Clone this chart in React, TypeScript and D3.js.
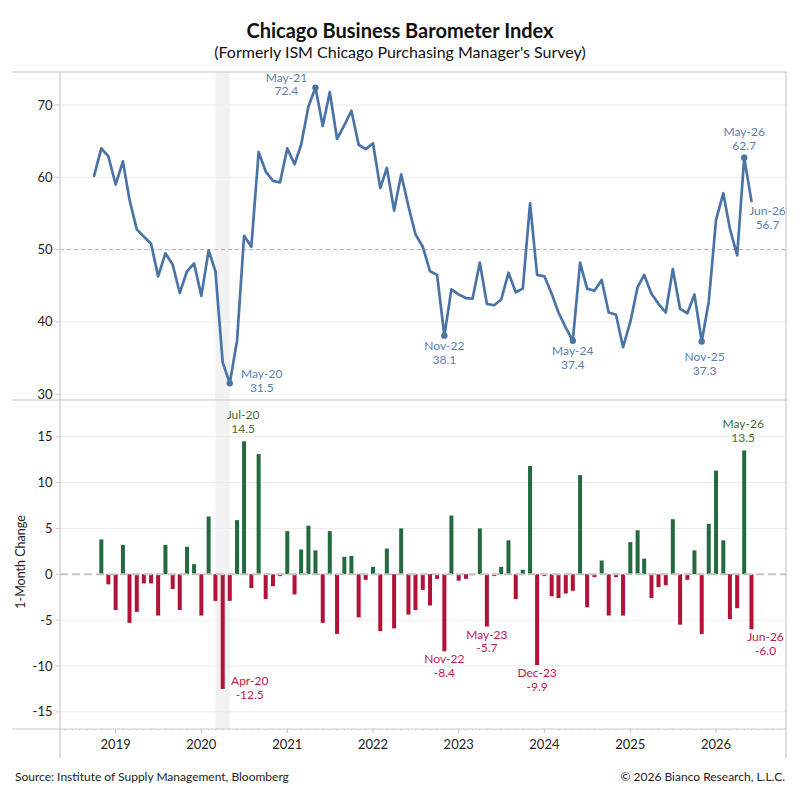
import React from "react";
import * as d3 from "d3";

// ---------- DATA ----------
const startMonth = new Date(2018, 9, 1); // Oct 2018
const endMonth = new Date(2026, 6, 1); // exclusive (Jul 2026)
const months: Date[] = d3.timeMonth.range(startMonth, endMonth);

// Chicago Business Barometer Index, Oct-18 .. Jun-26
const indexValues: number[] = [
  60.2, 64.0, 62.9, // 2018 Oct-Dec
  59.0, 62.2, 56.9, 52.8, 51.8, 50.8, 46.3, 49.5, 47.9, 44.0, 47.0, 48.1, // 2019
  43.6, 49.9, 47.0, 34.4, 31.5, 37.4, 51.9, 50.4, 63.5, 60.8, 59.5, 59.3, // 2020
  64.0, 61.8, 64.5, 69.8, 72.4, 67.1, 71.8, 65.3, 67.2, 69.2, 64.5, 63.9, // 2021
  64.7, 58.5, 61.3, 55.4, 60.4, 56.0, 52.1, 50.4, 47.0, 46.5, 38.1, 44.5, // 2022
  43.8, 43.3, 43.2, 48.2, 42.5, 42.3, 43.1, 46.8, 44.1, 44.6, 56.4, 46.5, // 2023
  46.3, 43.9, 41.3, 39.2, 37.4, 48.2, 44.6, 44.3, 45.8, 41.3, 41.0, 36.5, // 2024
  40.0, 44.8, 46.5, 43.9, 42.5, 41.3, 47.3, 41.8, 41.2, 43.8, 37.3, 42.8, // 2025
  54.1, 57.8, 52.9, 49.2, 62.7, 56.7, // 2026
];

// 1-month change, Nov-18 .. Jun-26
const changeValues: number[] = [
  3.8, -1.1, // 2018 Nov-Dec
  -3.9, 3.2, -5.3, -4.1, -1.0, -1.0, -4.5, 3.2, -1.6, -3.9, 3.0, 1.1, // 2019
  -4.5, 6.3, -2.9, -12.5, -2.9, 5.9, 14.5, -1.5, 13.1, -2.7, -1.3, -0.2, // 2020
  4.7, -2.2, 2.7, 5.3, 2.6, -5.3, 4.7, -6.5, 1.9, 2.0, -4.7, -0.6, // 2021
  0.8, -6.2, 2.8, -5.9, 5.0, -4.4, -3.9, -1.7, -3.4, -0.5, -8.4, 6.4, // 2022
  -0.7, -0.5, -0.1, 5.0, -5.7, -0.2, 0.8, 3.7, -2.7, 0.5, 11.8, -9.9, // 2023
  -0.2, -2.4, -2.6, -2.1, -1.8, 10.8, -3.6, -0.3, 1.5, -4.5, -0.3, -4.5, // 2024
  3.5, 4.8, 1.7, -2.6, -1.4, -1.2, 6.0, -5.5, -0.6, 2.6, -6.5, 5.5, // 2025
  11.3, 3.7, -4.9, -3.7, 13.5, -6.0, // 2026
];
const changeMonths: Date[] = months.slice(1);

const upperTicks = [30, 40, 50, 60, 70];
const lowerTicks = [-15, -10, -5, 0, 5, 10, 15];
const yearTicks = [2019, 2020, 2021, 2022, 2023, 2024, 2025, 2026];

const recessionStart = new Date(2020, 2, 1);
const recessionEnd = new Date(2020, 4, 1);

// annotated months with placement keys
const upperAnnotations: [string, string][] = [
  ["2020-05", "right"],
  ["2021-05", "left"],
  ["2022-11", "below"],
  ["2024-05", "below"],
  ["2025-11", "belowFar"],
  ["2026-05", "above"],
  ["2026-06", "belowRight"],
];
const lowerAnnotations: [string, string][] = [
  ["2020-04", "right"],
  ["2020-07", "above"],
  ["2022-11", "below"],
  ["2023-05", "below"],
  ["2023-12", "below"],
  ["2026-05", "above"],
  ["2026-06", "belowRight"],
];
const upperMarkers = ["2020-05", "2021-05", "2022-11", "2024-05", "2025-11", "2026-05"];

const title = "Chicago Business Barometer Index";
const subtitle = "(Formerly ISM Chicago Purchasing Manager's Survey)";
const lowerAxisTitle = "1-Month Change";
const sourceText = "Source: Institute of Supply Management, Bloomberg";
const copyrightText = "\u00A9 2026 Bianco Research, L.L.C.";

// ---------- LAYOUT ----------
const FONT = "Lato, 'Open Sans', sans-serif";
const L = 60, R = 786;
const TOP = 72, MID = 400, BOT = 729, FRAME_BOTTOM = 758, FRAME_LEFT = 12;

const LINE_COLOR = "#4a74a6";
const BLUE_TEXT = "#5a80b2";
const GREEN = "#236a3e";
const GREEN_TEXT = "#476b30";
const RED = "#b01238";
const RED_TEXT = "#c0174d";
const GRID = "#ececec";
const FRAME = "#c8c8c8";
const TEXT = "#222";

const keyFmt = d3.timeFormat("%Y-%m");
const labFmt = d3.timeFormat("%b-%y");
const valFmt = d3.formatLocale({ decimal: ".", thousands: ",", grouping: [3], currency: ["$", ""], minus: "-" }).format(".1f");

const upperPlace: Record<string, { dx: number; d1: number; d2: number }> = {
  left: { dx: -29, d1: -6, d2: 7.5 },
  right: { dx: 32, d1: -5.5, d2: 8.2 },
  below: { dx: 0, d1: 14, d2: 28 },
  belowFar: { dx: 3, d1: 20, d2: 33.8 },
  above: { dx: 0, d1: -22, d2: -8 },
  belowRight: { dx: 16, d1: 14, d2: 28 },
};
const lowerPlace: Record<string, { dx: number; d1: number; d2: number }> = {
  right: { dx: 27, d1: -3.5, d2: 10.3 },
  above: { dx: -1, d1: -22, d2: -8 },
  below: { dx: 0, d1: 12, d2: 25.8 },
  belowRight: { dx: 14, d1: 11.5, d2: 25.7 },
};

export default function App() {
  const x = d3
    .scaleTime()
    .domain([new Date(2018, 4, 9), new Date(2026, 9, 26)])
    .range([L, R]);
  const yU = d3.scaleLinear().domain([29.2, 74.56]).range([MID, TOP]);
  const yL = d3.scaleLinear().domain([-16.87, 19.0]).range([BOT, MID]);

  const line = d3
    .line<number>()
    .x((_, i) => x(months[i]))
    .y((d) => yU(d));

  const minorTicks = d3.timeMonth.range(new Date(2018, 5, 1), new Date(2026, 10, 1));
  const idx = (k: string) => months.findIndex((m) => keyFmt(m) === k);
  const cidx = (k: string) => changeMonths.findIndex((m) => keyFmt(m) === k);
  const barW = 4;

  return (
    <svg
      width={800}
      height={800}
      style={{ position: "absolute", left: 0, top: 0, background: "#fff" }}
      fontFamily={FONT}
    >
      <rect x={0} y={0} width={800} height={800} fill="#fff" />
      {/* titles */}
      <text x={400} y={37.5} textAnchor="middle" fontSize={20} fontWeight={700} fill="#111">
        {title}
      </text>
      <text x={400} y={57.5} textAnchor="middle" fontSize={16} fill="#111">
        {subtitle}
      </text>

      {/* recession band */}
      <rect
        x={x(recessionStart)}
        y={TOP}
        width={x(recessionEnd) - x(recessionStart)}
        height={BOT - TOP}
        fill="#f2f2f2"
      />

      {/* gridlines */}
      {upperTicks.map((t) => (
        <line key={"gu" + t} x1={L} x2={R} y1={yU(t)} y2={yU(t)} stroke={GRID} strokeWidth={1} />
      ))}
      {lowerTicks
        .filter((t) => t !== 0)
        .map((t) => (
          <line key={"gl" + t} x1={L} x2={R} y1={yL(t)} y2={yL(t)} stroke={GRID} strokeWidth={1} />
        ))}

      {/* y tick labels and ticks */}
      {upperTicks.map((t) => (
        <g key={"tu" + t}>
          <line x1={L - 4} x2={L} y1={yU(t)} y2={yU(t)} stroke={FRAME} />
          <text x={52.5} y={yU(t)} dy="0.35em" textAnchor="end" fontSize={13} fill={TEXT}>
            {t}
          </text>
        </g>
      ))}
      {lowerTicks.map((t) => (
        <g key={"tl" + t}>
          <line x1={L - 4} x2={L} y1={yL(t)} y2={yL(t)} stroke={FRAME} />
          <text x={52.5} y={yL(t)} dy="0.35em" textAnchor="end" fontSize={13} fill={TEXT}>
            {valFmt(t).replace(".0", "")}
          </text>
        </g>
      ))}
      <text
        transform={`translate(25,${562}) rotate(-90)`}
        textAnchor="middle"
        fontSize={12.5}
        fill={TEXT}
      >
        {lowerAxisTitle}
      </text>

      {/* 50 reference line */}
      <line
        x1={L}
        x2={R}
        y1={yU(50)}
        y2={yU(50)}
        stroke="#b4b4b4"
        strokeWidth={1}
        strokeDasharray="4,3"
      />

      {/* bars */}
      {changeValues.map((v, i) => (
        <rect
          key={"b" + i}
          x={x(changeMonths[i]) - barW / 2}
          y={v >= 0 ? yL(v) : yL(0)}
          width={barW}
          height={Math.abs(yL(v) - yL(0))}
          fill={v >= 0 ? GREEN : RED}
        />
      ))}
      <line
        x1={L}
        x2={R}
        y1={yL(0)}
        y2={yL(0)}
        stroke="#c4c4c4"
        strokeWidth={2}
        strokeDasharray="8,4"
      />

      {/* index line */}
      <path
        d={line(indexValues) || ""}
        fill="none"
        stroke={LINE_COLOR}
        strokeWidth={2.7}
        strokeLinejoin="round"
        strokeLinecap="round"
      />
      {upperMarkers.map((k) => {
        const i = idx(k);
        return <circle key={"m" + k} cx={x(months[i])} cy={yU(indexValues[i])} r={3.2} fill={LINE_COLOR} />;
      })}

      {/* upper annotations */}
      {upperAnnotations.map(([k, p]) => {
        const i = idx(k);
        const pl = upperPlace[p];
        const cx = x(months[i]) + pl.dx;
        const cy = yU(indexValues[i]);
        return (
          <g key={"ua" + k} fontSize={12} fill={BLUE_TEXT} textAnchor="middle">
            <text x={cx} y={cy + pl.d1}>{labFmt(months[i])}</text>
            <text x={cx} y={cy + pl.d2}>{valFmt(indexValues[i])}</text>
          </g>
        );
      })}

      {/* lower annotations */}
      {lowerAnnotations.map(([k, p]) => {
        const i = cidx(k);
        const v = changeValues[i];
        const pl = lowerPlace[p];
        const cx = x(changeMonths[i]) + pl.dx;
        const cy = yL(v);
        return (
          <g key={"la" + k} fontSize={12} fill={v >= 0 ? GREEN_TEXT : RED_TEXT} textAnchor="middle">
            <text x={cx} y={cy + pl.d1}>{labFmt(changeMonths[i])}</text>
            <text x={cx} y={cy + pl.d2}>{valFmt(v)}</text>
          </g>
        );
      })}

      {/* frame */}
      <line x1={FRAME_LEFT} x2={R} y1={TOP} y2={TOP} stroke={FRAME} strokeWidth={1.2} />
      <line x1={FRAME_LEFT} x2={R} y1={MID} y2={MID} stroke={FRAME} strokeWidth={1.2} />
      <line x1={FRAME_LEFT} x2={R} y1={BOT} y2={BOT} stroke={FRAME} strokeWidth={1.2} />
      <line x1={L} x2={L} y1={TOP} y2={FRAME_BOTTOM} stroke={FRAME} strokeWidth={1.2} />
      <line x1={R} x2={R} y1={TOP} y2={FRAME_BOTTOM} stroke={FRAME} strokeWidth={1.2} />

      {/* x ticks */}
      {minorTicks.map((m, i) => (
        <line
          key={"mt" + i}
          x1={x(m)}
          x2={x(m)}
          y1={BOT}
          y2={BOT + (m.getMonth() === 0 ? 4 : 2)}
          stroke={m.getMonth() === 0 ? "#bbb" : "#ddd"}
          strokeWidth={1}
        />
      ))}
      {yearTicks.map((yr) => (
        <text key={"yr" + yr} x={x(new Date(yr, 0, 1))} y={749} textAnchor="middle" fontSize={13} fill={TEXT}>
          {yr}
        </text>
      ))}

      {/* footer */}
      <text x={15} y={781} fontSize={12} fill={TEXT}>
        {sourceText}
      </text>
      <text x={785} y={781} fontSize={12} textAnchor="end" fill={TEXT}>
        {copyrightText}
      </text>
    </svg>
  );
}
